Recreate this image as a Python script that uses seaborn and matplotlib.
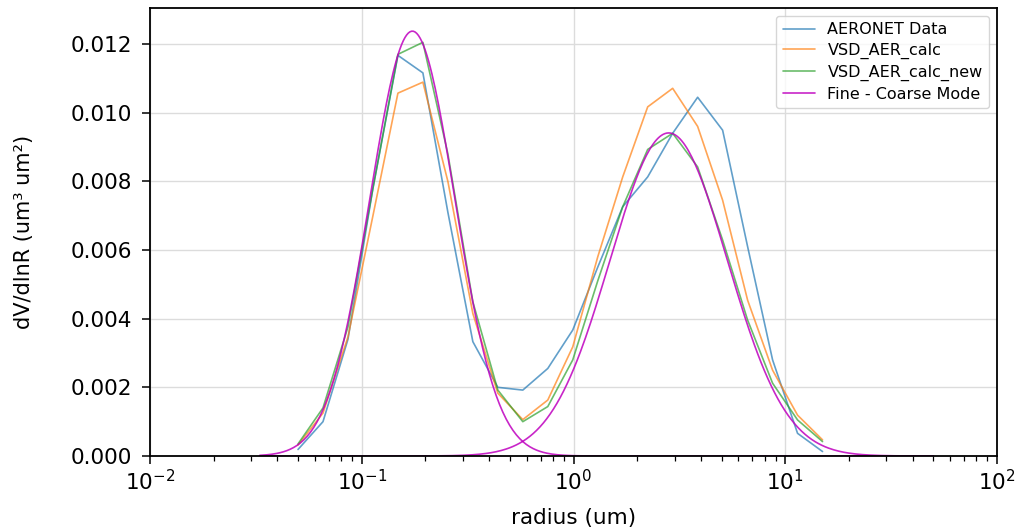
import numpy as np
import pandas as pd
import matplotlib
matplotlib.use("Agg")
import matplotlib.pyplot as plt
import seaborn as sns
from matplotlib.ticker import FormatStrFormatter, LogLocator

# AERONET radius bins (um)
radius = [0.05, 0.065604, 0.086077, 0.112939, 0.148184, 0.194429, 0.255105,
          0.334716, 0.439173, 0.576227, 0.756052, 0.991996, 1.301571, 1.707757,
          2.240702, 2.939966, 3.857452, 5.06126, 6.640745, 8.713145, 11.432287, 15.0]

# dV/dlnR for each bin
aeronet_data = [0.00019, 0.0010, 0.0034, 0.0078, 0.01167, 0.01116, 0.0071,
                0.00333, 0.0020, 0.00192, 0.00255, 0.00367, 0.0055, 0.00726,
                0.00813, 0.0094, 0.01045, 0.00949, 0.0061, 0.0028, 0.00066, 0.00013]
vsd_aer_calc = [0.00032, 0.00125, 0.00347, 0.0070, 0.01057, 0.01089, 0.0080,
                0.00415, 0.00183, 0.00106, 0.00163, 0.00318, 0.0058, 0.00813,
                0.01017, 0.01071, 0.0096, 0.00745, 0.00454, 0.0025, 0.00119, 0.00047]
vsd_aer_calc_new = [0.00035, 0.0014, 0.00376, 0.0078, 0.0117, 0.01205, 0.0088,
                    0.00449, 0.00192, 0.0010, 0.00144, 0.0028, 0.0051, 0.00726,
                    0.00893, 0.0094, 0.00842, 0.00629, 0.00396, 0.00212, 0.00105, 0.00042]

# Lognormal mode parameters: fine, coarse
mode_volume = [0.01432, 0.01505]      # volume concentration (um^3/um^2)
mode_radius = [0.1734, 2.815]         # volume median radius (um)
mode_sigma = [0.4616, 0.638]          # geometric std (ln)

series_names = ["AERONET Data", "VSD_AER_calc", "VSD_AER_calc_new"]

df = pd.concat([
    pd.DataFrame({"radius": radius, "dVdlnR": vals, "series": name})
    for name, vals in zip(series_names, [aeronet_data, vsd_aer_calc, vsd_aer_calc_new])
], ignore_index=True)

r_mode = np.logspace(np.log10(0.033), np.log10(50), 400)
mode_frames = []
for i, (vc, rv, sg) in enumerate(zip(mode_volume, mode_radius, mode_sigma)):
    dv = vc / (np.sqrt(2 * np.pi) * sg) * np.exp(-(np.log(r_mode) - np.log(rv)) ** 2 / (2 * sg ** 2))
    mode_frames.append(pd.DataFrame({"radius": r_mode, "dVdlnR": dv, "mode": i}))

sns.set_style("whitegrid", {"axes.edgecolor": "black", "xtick.bottom": True,
                            "ytick.left": True, "grid.color": "#dddddd",
                            "text.color": "black", "axes.labelcolor": "black",
                            "xtick.color": "black", "ytick.color": "black"})
plt.rcParams["font.family"] = ["DejaVu Sans"]

fig = plt.figure(figsize=(10.26, 5.31), dpi=100)
ax = fig.add_axes([150 / 1026, 1 - 456 / 531, (997 - 150) / 1026, (456 - 8) / 531])
ax.set_xscale("log")

palette = {"AERONET Data": "#1f77b4", "VSD_AER_calc": "#ff7f0e", "VSD_AER_calc_new": "#2ca02c"}
sns.lineplot(data=df, x="radius", y="dVdlnR", hue="series", palette=palette,
             alpha=0.7, linewidth=1.2, ax=ax, estimator=None, sort=True)
for i, mf in enumerate(mode_frames):
    sns.lineplot(data=mf, x="radius", y="dVdlnR", color="m", alpha=0.85, linewidth=1.2,
                 ax=ax, estimator=None, label="Fine - Coarse Mode" if i == 0 else None)

ax.set_xlim(1e-2, 1e2)
ax.set_ylim(0, 0.01305)
ax.set_yticks(np.arange(0, 0.0121, 0.002))
ax.yaxis.set_major_formatter(FormatStrFormatter("%.3f"))
ax.xaxis.set_major_locator(LogLocator(base=10, numticks=10))
ax.xaxis.set_minor_locator(LogLocator(base=10, subs=np.arange(2, 10), numticks=100))

ax.grid(True, which="major", color="#dcdcdc", linewidth=1.0)
ax.grid(False, which="minor")
for s in ax.spines.values():
    s.set_color("black")
    s.set_linewidth(1.3)
ax.tick_params(axis="both", which="major", labelsize=15.5, length=6, width=1.1,
               color="black", labelcolor="black", direction="out")
ax.tick_params(axis="y", which="major", pad=7)
ax.tick_params(axis="x", which="minor", length=3.5, width=0.9, color="black")

ax.set_xlabel("radius (um)", fontsize=15.5, labelpad=10, color="black")
ax.set_ylabel("dV/dlnR (um³ um²)", fontsize=15, labelpad=26, color="black")

leg = ax.legend(loc="upper right", fontsize=11.5, frameon=True, framealpha=0.8,
                edgecolor="#cccccc", fancybox=True, labelspacing=0.35)
for text in leg.get_texts():
    text.set_color("black")
for line in leg.get_lines():
    line.set_linewidth(1.2)

fig.savefig("out.png", dpi=100)
